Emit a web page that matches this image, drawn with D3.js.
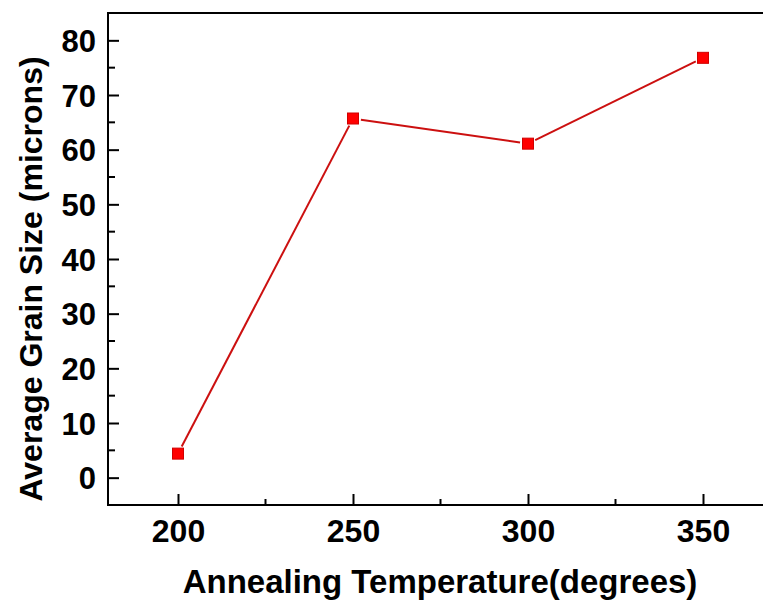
<!DOCTYPE html>
<html>
<head>
<meta charset="utf-8">
<script src="https://cdn.jsdelivr.net/npm/d3@7"></script>
<style>
  html, body { margin: 0; padding: 0; background: #fff; }
  svg { display: block; }
  text { font-family: "Liberation Sans", Arial, sans-serif; font-weight: bold; fill: #000; }
</style>
</head>
<body>
<svg id="chart" width="763" height="605"></svg>
<script>
// Annealing temperature vs. average grain size
const temperatures = [200, 250, 300, 350];
const grainSizes = [4.4, 65.7, 61.1, 76.8];
const xTickValues = [200, 250, 300, 350];
const xMinorTicks = [225, 275, 325];
const yTickValues = [0, 10, 20, 30, 40, 50, 60, 70, 80];
const yMinorTicks = [5, 15, 25, 35, 45, 55, 65, 75];

const plotLeft = 108, plotTop = 13, plotBottom = 505, plotRight = 773;

const svg = d3.select("#chart");

const x = d3.scaleLinear().domain([180, 370]).range([plotLeft, plotRight]);
const y = d3.scaleLinear().domain([-5, 85]).range([plotBottom, plotTop]);

const axisColor = "#000";

// Frame: top edge
svg.append("line")
  .attr("x1", plotLeft).attr("x2", plotRight)
  .attr("y1", plotTop).attr("y2", plotTop)
  .attr("stroke", axisColor).attr("stroke-width", 2);

// Bottom axis (ticks point inward)
const xAxis = svg.append("g").attr("transform", `translate(0,${plotBottom})`);
xAxis.call(d3.axisBottom(x).tickValues(xTickValues).tickSize(-11).tickPadding(0).tickFormat(d3.format("d")));
xAxis.select(".domain").remove();
xAxis.append("line").attr("x1", plotLeft - 1).attr("x2", plotRight).attr("stroke", axisColor).attr("stroke-width", 2);
xAxis.selectAll(".tick line").attr("stroke", axisColor).attr("stroke-width", 2);
xAxis.selectAll(".tick text")
  .attr("y", 37).attr("dy", 0)
  .style("font-size", "32px");
xAxis.selectAll(".minor").data(xMinorTicks).enter().append("line")
  .attr("class", "minor")
  .attr("x1", d => x(d)).attr("x2", d => x(d))
  .attr("y1", 0).attr("y2", -6)
  .attr("stroke", axisColor).attr("stroke-width", 2);

// Left axis
const yAxis = svg.append("g").attr("transform", `translate(${plotLeft},0)`);
yAxis.call(d3.axisLeft(y).tickValues(yTickValues).tickSize(-11).tickPadding(0).tickFormat(d3.format("d")));
yAxis.select(".domain").remove();
yAxis.append("line").attr("y1", plotTop - 1).attr("y2", plotBottom + 1).attr("stroke", axisColor).attr("stroke-width", 2);
yAxis.selectAll(".tick line").attr("stroke", axisColor).attr("stroke-width", 2);
yAxis.selectAll(".tick text")
  .attr("x", -12).attr("dy", "0.36em")
  .style("font-size", "31px");
yAxis.selectAll(".minor").data(yMinorTicks).enter().append("line")
  .attr("class", "minor")
  .attr("y1", d => y(d)).attr("y2", d => y(d))
  .attr("x1", 0).attr("x2", 7)
  .attr("stroke", axisColor).attr("stroke-width", 2);

// Connecting segments, stopping short of the markers
const pts = temperatures.map((t, i) => [x(t), y(grainSizes[i])]);
const gap = 8;
const segs = d3.pairs(pts).map(([a, b]) => {
  const dx = b[0] - a[0], dy = b[1] - a[1];
  const len = Math.hypot(dx, dy);
  const ux = dx / len, uy = dy / len;
  return [a[0] + ux * gap, a[1] + uy * gap, b[0] - ux * gap, b[1] - uy * gap];
});
svg.append("g").selectAll("line").data(segs).enter().append("line")
  .attr("x1", d => d[0]).attr("y1", d => d[1])
  .attr("x2", d => d[2]).attr("y2", d => d[3])
  .attr("stroke", "#cc1010").attr("stroke-width", 2);

// Square markers
const ms = 11;
svg.append("g").selectAll("rect").data(temperatures).enter().append("rect")
  .attr("x", (d) => x(d) - ms / 2)
  .attr("y", (d, i) => y(grainSizes[i]) - ms / 2)
  .attr("width", ms).attr("height", ms)
  .attr("fill", "#ff0000")
  .attr("stroke", "#d00000").attr("stroke-width", 1);

// Axis titles
svg.append("text")
  .attr("x", 440).attr("y", 593)
  .attr("text-anchor", "middle")
  .style("font-size", "33px")
  .text("Annealing Temperature(degrees)");

svg.append("text")
  .attr("transform", `translate(42,279) rotate(-90)`)
  .attr("text-anchor", "middle")
  .style("font-size", "32px")
  .text("Average Grain Size (microns)");
</script>
</body>
</html>
